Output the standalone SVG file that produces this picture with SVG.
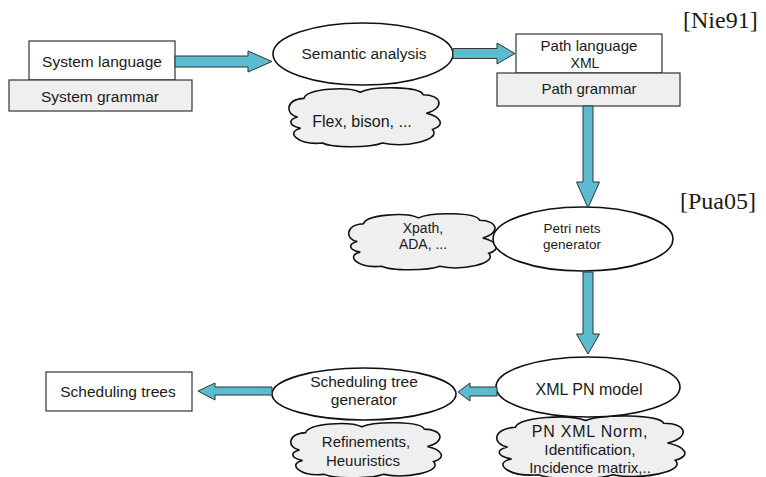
<svg xmlns="http://www.w3.org/2000/svg" xmlns:xlink="http://www.w3.org/1999/xlink" width="766" height="477" viewBox="0 0 766 477">
<style>
.box{fill:#ffffff;stroke:#333;stroke-width:1.2}
.gbox{fill:#efefef;stroke:#333;stroke-width:1.2}
.ell{fill:#ffffff;stroke:#111;stroke-width:1.6}
.cloud{fill:#efefef;stroke:#111;stroke-width:1.6;vector-effect:non-scaling-stroke}
.arrow{fill:#5bbccf;stroke:#333;stroke-width:1}
.t{font-family:"Liberation Sans",Arial,sans-serif;font-size:15.5px;fill:#1a1a1a;text-anchor:middle}
.cite{font-family:"Liberation Serif","Times New Roman",serif;font-size:24px;fill:#1a1a1a}
</style>
<defs>
<path id="cloudShape" class="cloud" d="M8,50 C0,46 0,22 12,20 C14,4 40,0 48,10 C56,0 86,0 88,14 C100,14 102,36 90,44 C100,50 102,64 94,70 C100,88 76,100 62,92 C54,100 30,100 24,92 C8,96 0,74 10,68 C2,64 2,54 8,50 Z"/>
</defs>
<rect width="766" height="477" fill="#ffffff"/>

<g id="cite-nie91"><text class="cite" x="683" y="28">[Nie91]</text></g>
<g id="cite-pua05"><text class="cite" x="680" y="209">[Pua05]</text></g>

<g id="system-language">
<rect class="box" x="29" y="41" width="146" height="39"/>
<text class="t" x="102" y="67">System language</text>
</g>
<g id="system-grammar">
<rect class="gbox" x="9" y="80" width="183" height="31"/>
<text class="t" x="100" y="102">System grammar</text>
</g>

<g id="flex-bison">
<use xlink:href="#cloudShape" transform="translate(285,86) scale(1.57,0.62)"/>
<text class="t" x="362" y="127" style="font-size:16px">Flex, bison, ...</text>
</g>
<g id="semantic-analysis">
<ellipse class="ell" cx="363" cy="54" rx="90" ry="31"/>
<text class="t" x="364" y="59">Semantic analysis</text>
</g>

<g id="path-language">
<rect class="box" x="516" y="34" width="146" height="39"/>
<text class="t" x="589" y="51" style="font-size:15px">Path language</text>
<text class="t" x="585" y="68" style="font-size:14px">XML</text>
</g>
<g id="path-grammar">
<rect class="gbox" x="497" y="73" width="183" height="33"/>
<text class="t" x="589" y="94" style="font-size:15px">Path grammar</text>
</g>

<g id="xpath-ada">
<use xlink:href="#cloudShape" transform="translate(345,212) scale(1.53,0.59)"/>
<text class="t" x="423" y="233" style="font-size:14px">Xpath,</text>
<text class="t" x="423" y="249" style="font-size:14px">ADA, ...</text>
</g>
<g id="petri-nets-generator">
<ellipse class="ell" cx="583" cy="239" rx="90" ry="32"/>
<text class="t" x="572" y="233" style="font-size:13.5px">Petri nets</text>
<text class="t" x="572" y="249" style="font-size:13.5px">generator</text>
</g>

<g id="pn-xml-norm">
<use xlink:href="#cloudShape" transform="translate(492,414) scale(1.95,0.66)"/>
<text class="t" x="590" y="437" style="font-size:16px;letter-spacing:0.8px">PN XML Norm,</text>
<text class="t" x="590" y="455" style="font-size:15.5px">Identification,</text>
<text class="t" x="590" y="473" style="font-size:15px">Incidence matrix,..</text>
</g>
<g id="xml-pn-model">
<ellipse class="ell" cx="588" cy="387" rx="92" ry="30"/>
<text class="t" x="589" y="395" style="font-size:16px">XML PN model</text>
</g>

<g id="refinements">
<use xlink:href="#cloudShape" transform="translate(287,421) scale(1.56,0.58)"/>
<text class="t" x="366" y="447" style="font-size:15px">Refinements,</text>
<text class="t" x="363" y="466" style="font-size:15px">Heuuristics</text>
</g>
<g id="scheduling-tree-generator">
<ellipse class="ell" cx="364" cy="394" rx="92" ry="26"/>
<text class="t" x="364" y="387">Scheduling tree</text>
<text class="t" x="364" y="405">generator</text>
</g>

<g id="scheduling-trees">
<rect class="box" x="46" y="372" width="146" height="39"/>
<text class="t" x="118" y="397">Scheduling trees</text>
</g>

<g id="connectors">
<polygon class="arrow" points="175,56 248,56 248,51 272,61.5 248,72 248,67 175,67"/>
<polygon class="arrow" points="453,48.5 497,48.5 497,43 515,53.5 497,64 497,58.5 453,58.5"/>
<polygon class="arrow" points="583,106 593,106 593,182 599.5,182 588,208 576.5,182 583,182"/>
<polygon class="arrow" points="583,272 593,272 593,334 599.5,334 588,354 576.5,334 583,334"/>
<polygon class="arrow" points="497,387 470,387 470,383 458,392 470,401 470,396 497,396"/>
<polygon class="arrow" points="272,387 215,387 215,383 198,391 215,400 215,395 272,395"/>
</g>
</svg>
